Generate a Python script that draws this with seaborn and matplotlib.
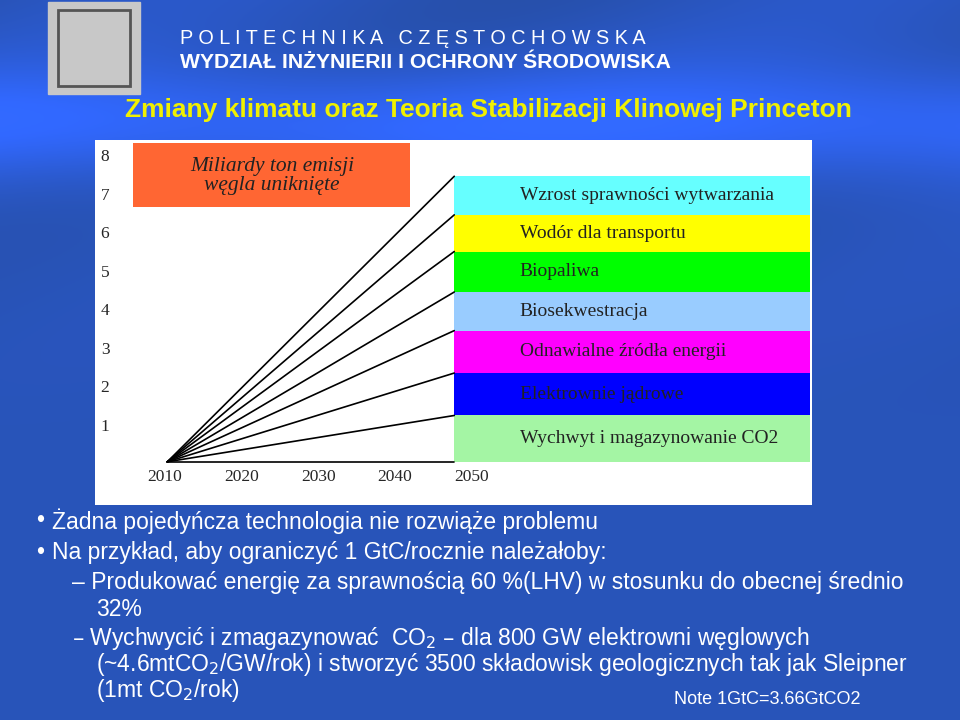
import numpy as np
import pandas as pd
import matplotlib
matplotlib.use("Agg")
import matplotlib.pyplot as plt
import seaborn as sns

# ---- data ----
wedge_labels = ["Wychwyt i magazynowanie CO2", "Elektrownie jądrowe", "Odnawialne źródła energii",
                "Biosekwestracja", "Biopaliwa", "Wodór dla transportu", "Wzrost sprawności wytwarzania"]
wedge_bottoms = [0.1, 1.3, 2.4, 3.5, 4.5, 5.55, 6.5]
wedge_tops = [1.3, 2.4, 3.5, 4.5, 5.55, 6.5, 7.5]
wedge_colors = ["#a4f5a4", "#0000ff", "#ff00ff", "#99ccff", "#00ff00", "#ffff00", "#66ffff"]
x_ticks = [2010, 2020, 2030, 2040, 2050]
y_ticks = [1, 2, 3, 4, 5, 6, 7, 8]
fan_start = 2010.4
fan_end = 2047.7
band_end = 2094

sns.set_theme(style="white")
fig = plt.figure(figsize=(9.6, 7.2), dpi=100)

# background
bg = fig.add_axes([0, 0, 1, 1])
yy = np.linspace(0, 1, 300)[:, None]
xx = np.linspace(0, 1, 400)[None, :]
base = 0.6 + 0.22 * np.exp(-((yy - 0.17) / 0.08) ** 2) + 0.08 * np.sin(xx * 9 + yy * 14) * (0.6 - yy).clip(0)
img = np.dstack([0.12 * base / 0.8 + 0.07, 0.28 * base / 0.8 + 0.12, np.clip(0.85 * base / 0.7, 0, 1)])
bg.imshow(np.clip(img, 0, 1), extent=[0, 960, 720, 0], aspect="auto")
bg.set_xlim(0, 960); bg.set_ylim(720, 0); bg.axis("off")
bg.add_patch(plt.Rectangle((48, 2), 92, 92, color="#c8c8c8"))
bg.add_patch(plt.Rectangle((58, 10), 72, 76, fill=False, ec="#555555", lw=2))
bg.text(180, 38, "P O L I T E C H N I K A   C Z Ę S T O C H O W S K A", color="white",
        fontsize=14.3, family="Liberation Sans", va="center")
bg.text(180, 62, "WYDZIAŁ INŻYNIERII I OCHRONY ŚRODOWISKA", color="white",
        fontsize=15.2, family="Liberation Sans", weight="bold", va="center")
bg.text(125, 110, "Zmiany klimatu oraz Teoria Stabilizacji Klinowej Princeton", color="#f0f000",
        fontsize=19, family="Liberation Sans", weight="bold", va="center")
sans = dict(color="white", family="Liberation Sans", fontsize=16.5, va="center")
bg.text(36, 521, "•", **sans); bg.text(52, 521, "Żadna pojedyńcza technologia nie rozwiąże problemu", **sans)
bg.text(36, 553, "•", **sans); bg.text(52, 553, "Na przykład, aby ograniczyć 1 GtC/rocznie należałoby:", **sans)
bg.text(72, 583, "– Produkować energię za sprawnością 60 %(LHV) w stosunku do obecnej średnio", **sans)
bg.text(96, 609, "32%", **sans)
bg.text(72, 639, "– Wychwycić i zmagazynować  CO$_2$ – dla 800 GW elektrowni węglowych", **sans)
bg.text(96, 665, "(~4.6mtCO$_2$/GW/rok) i stworzyć 3500 składowisk geologicznych tak jak Sleipner", **sans)
bg.text(96, 690, "(1mt CO$_{2}$/rok)", **sans)
bg.text(674, 700, "Note 1GtC=3.66GtCO2", color="white", family="Liberation Sans", fontsize=13, va="center")

# chart panel
ax = fig.add_axes([95 / 960, 1 - 505 / 720, 717 / 960, 365 / 720])
ax.set_facecolor("white")
ax.set_xlim(2001, 2094.2)
ax.set_ylim(-1.02, 8.44)
for s in ax.spines.values():
    s.set_visible(False)
ax.set_xticks([]); ax.set_yticks([])

for b, t, c, lab in zip(wedge_bottoms, wedge_tops, wedge_colors, wedge_labels):
    ax.fill_between([fan_end, band_end], b, t, color=c, lw=0)
    ax.text(fan_end + 8.5, (b + t) / 2, lab, family="Liberation Serif", fontsize=14,
            color="#222222", va="center")

rows = []
for i, t in enumerate([wedge_bottoms[0]] + wedge_tops):
    rows += [dict(x=fan_start, y=wedge_bottoms[0], g=i), dict(x=fan_end, y=t, g=i)]
sns.lineplot(data=pd.DataFrame(rows), x="x", y="y", units="g", estimator=None,
             color="black", lw=1.2, ax=ax, legend=False)
ax.set_xlabel(""); ax.set_ylabel("")

for y in y_ticks:
    ax.text(2002.3, y, str(y), family="Liberation Serif", fontsize=12.5, va="center", ha="center")
for x in x_ticks:
    ax.text(x, -0.3, str(x), family="Liberation Serif", fontsize=12.5, va="center", ha="center")

ax.add_patch(plt.Rectangle((2005.9, 6.7), 36.1, 1.65, color="#ff6633", lw=0))
ax.text(2024, 7.75, "Miliardy ton emisji", family="Liberation Serif", style="italic", fontsize=15.5,
        ha="center", va="center", color="#222222")
ax.text(2024, 7.25, "węgla uniknięte", family="Liberation Serif", style="italic", fontsize=15.5,
        ha="center", va="center", color="#222222")

fig.savefig("out.png", dpi=100)
